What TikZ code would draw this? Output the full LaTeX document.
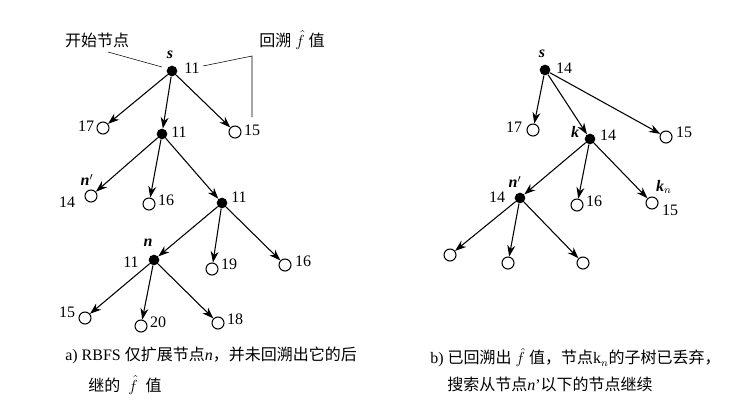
\documentclass[tikz,border=0pt]{standalone}
\usepackage{fontspec}
\setmainfont{Liberation Serif}
\newfontfamily\cjk{Noto Sans CJK SC}
\usetikzlibrary{arrows.meta}
\begin{document}
\begin{tikzpicture}[x=0.75pt,y=-0.75pt,font=\fontsize{12}{14}\selectfont,
  op/.style={circle,draw,thick,minimum size=9pt,inner sep=0pt},
  fl/.style={circle,fill,minimum size=8pt,inner sep=0pt},
  ar/.style={-{Stealth[length=8.5pt,width=6pt]},thick},
  lb/.style={inner sep=0pt},
  il/.style={inner sep=0pt,font=\fontsize{12}{14}\selectfont\itshape\bfseries}]
\useasboundingbox (0,0) rectangle (752,405);
% left tree
\node[fl] (s) at (172,71) {}; \node[il] (ls) at (170,55) {s}; \node[lb] (vs) at (192,68) {11};
\node[op] (a) at (103,128) {}; \node[lb] (va) at (86,126) {17};
\node[fl] (b) at (162,134) {}; \node[lb] (vb) at (179,132) {11};
\node[op] (c) at (235,132) {}; \node[lb] (vc) at (252,130) {15};
\node[op] (d) at (91,196) {}; \node[il] (ld) at (87,180) {n$'$}; \node[lb] (vd) at (67,202) {14};
\node[op] (e) at (149,204) {}; \node[lb] (ve) at (166,200) {16};
\node[fl] (f) at (222,203) {}; \node[lb] (vf) at (239,197) {11};
\node[fl] (g) at (154,260) {}; \node[il] (lg) at (148,243) {n}; \node[lb] (vg) at (131,262) {11};
\node[op] (h) at (212,269) {}; \node[lb] (vh) at (229,264) {19};
\node[op] (i) at (285,265) {}; \node[lb] (vi) at (303,261) {16};
\node[op] (j) at (85,318) {}; \node[lb] (vj) at (67,312) {15};
\node[op] (k) at (141,326) {}; \node[lb] (vk) at (158,322) {20};
\node[op] (l) at (218,323) {}; \node[lb] (vl) at (235,319) {18};
\foreach \u/\v in {s/a,s/b,s/c,b/d,b/e,b/f,f/g,f/h,f/i,g/j,g/k,g/l} \draw[ar] (\u)--(\v);
\node[lb] (t1) at (97,40) {\cjk 开始节点};
\coordinate (t1s) at (108,52); \coordinate (t1e) at (162,67);
\draw (t1s) -- (t1e);
\node[lb] (t2) at (292,40) {{\cjk 回溯}\ $\hat{f}$\ {\cjk 值}};
\coordinate (m) at (252,56); \coordinate (m1) at (203,66); \coordinate (m2) at (252,117);
\draw (m1) -- (m) -- (m2);
\node[lb,anchor=west] (ca1) at (65,355) {a) RBFS {\cjk 仅扩展节点}\textit{n}{\cjk ，并未回溯出它的后}};
\node[lb,anchor=west] (ca2) at (88,385) {{\cjk 继的}\ \ $\hat{f}$\ \ {\cjk 值}};
% right tree
\node[fl] (S) at (545,70) {}; \node[il] (lS) at (542,54) {s}; \node[lb] (vS) at (564,68) {14};
\node[op] (A) at (533,130) {}; \node[lb] (vA) at (514,127) {17};
\node[fl] (K) at (590,139) {}; \node[il] (lK) at (575,132) {k}; \node[lb] (vK) at (608,135) {14};
\node[op] (C) at (666,137) {}; \node[lb] (vC) at (684,132) {15};
\node[fl] (N) at (520,198) {}; \node[il] (lN) at (515,182) {n$'$}; \node[lb] (vN) at (497,197) {14};
\node[op] (E) at (577,205) {}; \node[lb] (vE) at (594,201) {16};
\node[op] (F) at (652,203) {}; \node[lb] (lF) at (664,187) {\textit{\textbf{k}}$_n$}; \node[lb] (vF) at (670,210) {15};
\node[op] (G) at (450,255) {};
\node[op] (H) at (508,263) {};
\node[op] (I) at (583,263) {};
\foreach \u/\v in {S/A,S/K,S/C,K/N,K/E,K/F,N/G,N/H,N/I} \draw[ar] (\u)--(\v);
\node[lb,anchor=west] (cb1) at (430,358) {b) {\cjk 已回溯出}\ $\hat{f}$\ {\cjk 值，节点}k$_n${\cjk 的子树已丢弃，}};
\node[lb,anchor=west] (cb2) at (447,384) {{\cjk 搜索从节点}\textit{n}'{\cjk 以下的节点继续}};
\end{tikzpicture}
\end{document}
